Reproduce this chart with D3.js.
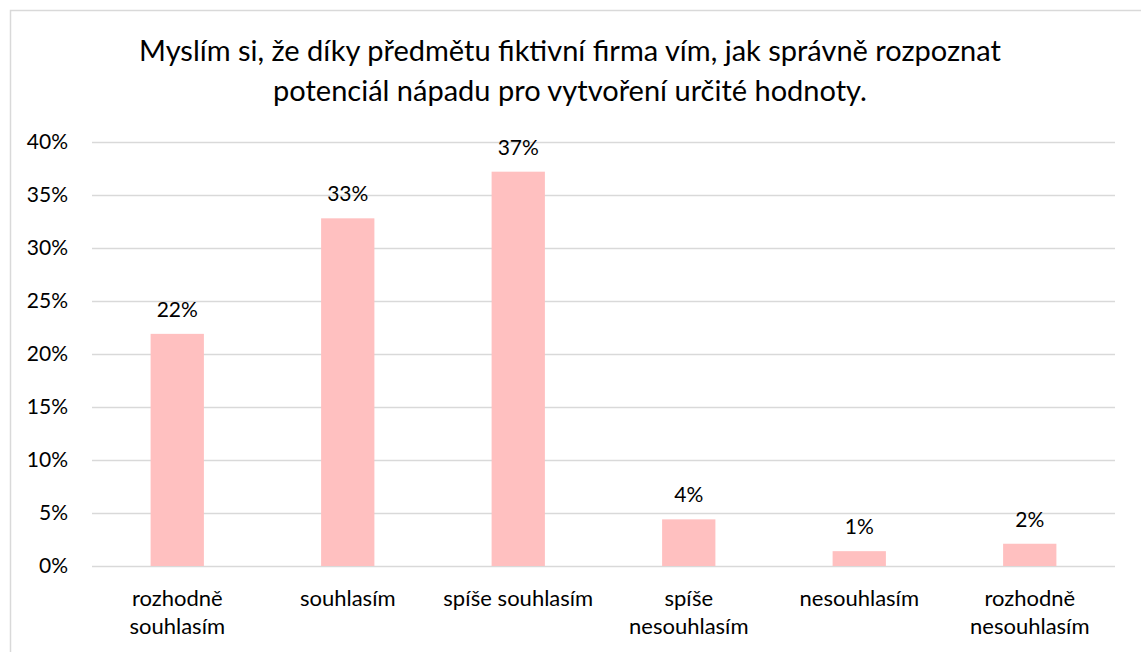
<!doctype html>
<html>
<head>
<meta charset="UTF-8">
<title>Fiktivní firma</title>
<script src="https://cdn.jsdelivr.net/npm/d3@7"></script>
<style>
  body { margin: 0; background: #fff; }
  text { font-family: Lato, "Open Sans", sans-serif; fill: #000; }
</style>
</head>
<body>
<script>
// data
var titleLines = [
  "Myslím si, že díky předmětu fiktivní firma vím, jak správně rozpoznat",
  "potenciál nápadu pro vytvoření určité hodnoty."
];
var categories = ["rozhodně souhlasím", "souhlasím", "spíše souhlasím",
                  "spíše nesouhlasím", "nesouhlasím", "rozhodně nesouhlasím"];
// category labels as they wrap in the picture
var categoryLines = [["rozhodně", "souhlasím"], ["souhlasím"], ["spíše souhlasím"],
                     ["spíše", "nesouhlasím"], ["nesouhlasím"], ["rozhodně", "nesouhlasím"]];
var values = [0.219, 0.328, 0.372, 0.044, 0.014, 0.021];
var yTicks = [0, 0.05, 0.10, 0.15, 0.20, 0.25, 0.30, 0.35, 0.40];

var w = 1141, h = 652;
var margin = {top: 142, right: 26, bottom: 86, left: 92};

var svg = d3.select("body").append("svg")
  .attr("width", w)
  .attr("height", h);

// chart border (right and bottom edges fall outside the window)
svg.append("rect")
  .attr("x", 10.5).attr("y", 10.5)
  .attr("width", w).attr("height", h)
  .attr("fill", "none")
  .attr("stroke", "#d9d9d9")
  .attr("stroke-width", 1.5);

var x = d3.scaleBand()
  .domain(categories)
  .range([margin.left, w - margin.right]);

var y = d3.scaleLinear()
  .domain([0, 0.4])
  .range([h - margin.bottom, margin.top]);

var barW = x.bandwidth() / 3.2;  // excel gap width ~220%

// gridlines
svg.append("g")
  .selectAll("line")
  .data(yTicks)
  .enter().append("line")
  .attr("x1", margin.left).attr("x2", w - margin.right)
  .attr("y1", function(d) { return Math.round(y(d)) + 0.5; })
  .attr("y2", function(d) { return Math.round(y(d)) + 0.5; })
  .attr("stroke", "#d9d9d9")
  .attr("stroke-width", 1.5);

// y axis labels
var yAxis = d3.axisLeft(y)
  .tickValues(yTicks)
  .tickFormat(d3.format(".0%"))
  .tickSize(0)
  .tickPadding(24);

var gy = svg.append("g")
  .attr("transform", "translate(" + margin.left + ",0)")
  .call(yAxis);
gy.select(".domain").remove();
gy.selectAll("text")
  .attr("font-size", "21px")
  .attr("font-family", null)
  .attr("fill", "#000");

// bars
svg.selectAll("rect.bar")
  .data(values)
  .enter().append("rect")
  .attr("class", "bar")
  .attr("x", function(d, i) { return x(categories[i]) + (x.bandwidth() - barW) / 2; })
  .attr("y", function(d) { return y(d); })
  .attr("width", barW)
  .attr("height", function(d) { return y(0) - y(d); })
  .attr("fill", "#ffc0c0");

// data labels
svg.selectAll("text.labels")
  .data(values)
  .enter().append("text")
  .attr("class", "labels")
  .attr("text-anchor", "middle")
  .attr("font-size", "21px")
  .attr("x", function(d, i) { return x(categories[i]) + x.bandwidth() / 2; })
  .attr("y", function(d) { return y(d) - 17; })
  .text(function(d) { return d3.format(".0%")(d); });

// category labels
var cats = svg.selectAll("text.cat")
  .data(categoryLines)
  .enter().append("text")
  .attr("class", "cat")
  .attr("text-anchor", "middle")
  .attr("font-size", "22px")
  .attr("y", 606);
cats.each(function(lines, i) {
  var t = d3.select(this);
  lines.forEach(function(line, j) {
    t.append("tspan")
      .attr("x", x(categories[i]) + x.bandwidth() / 2)
      .attr("y", 606 + j * 28)
      .text(line);
  });
});

// title
svg.append("text")
  .attr("text-anchor", "middle")
  .attr("font-size", "29px")
  .selectAll("tspan")
  .data(titleLines)
  .enter().append("tspan")
  .attr("x", 570)
  .attr("y", function(d, i) { return 61 + i * 40; })
  .text(function(d) { return d; });
</script>
</body>
</html>
